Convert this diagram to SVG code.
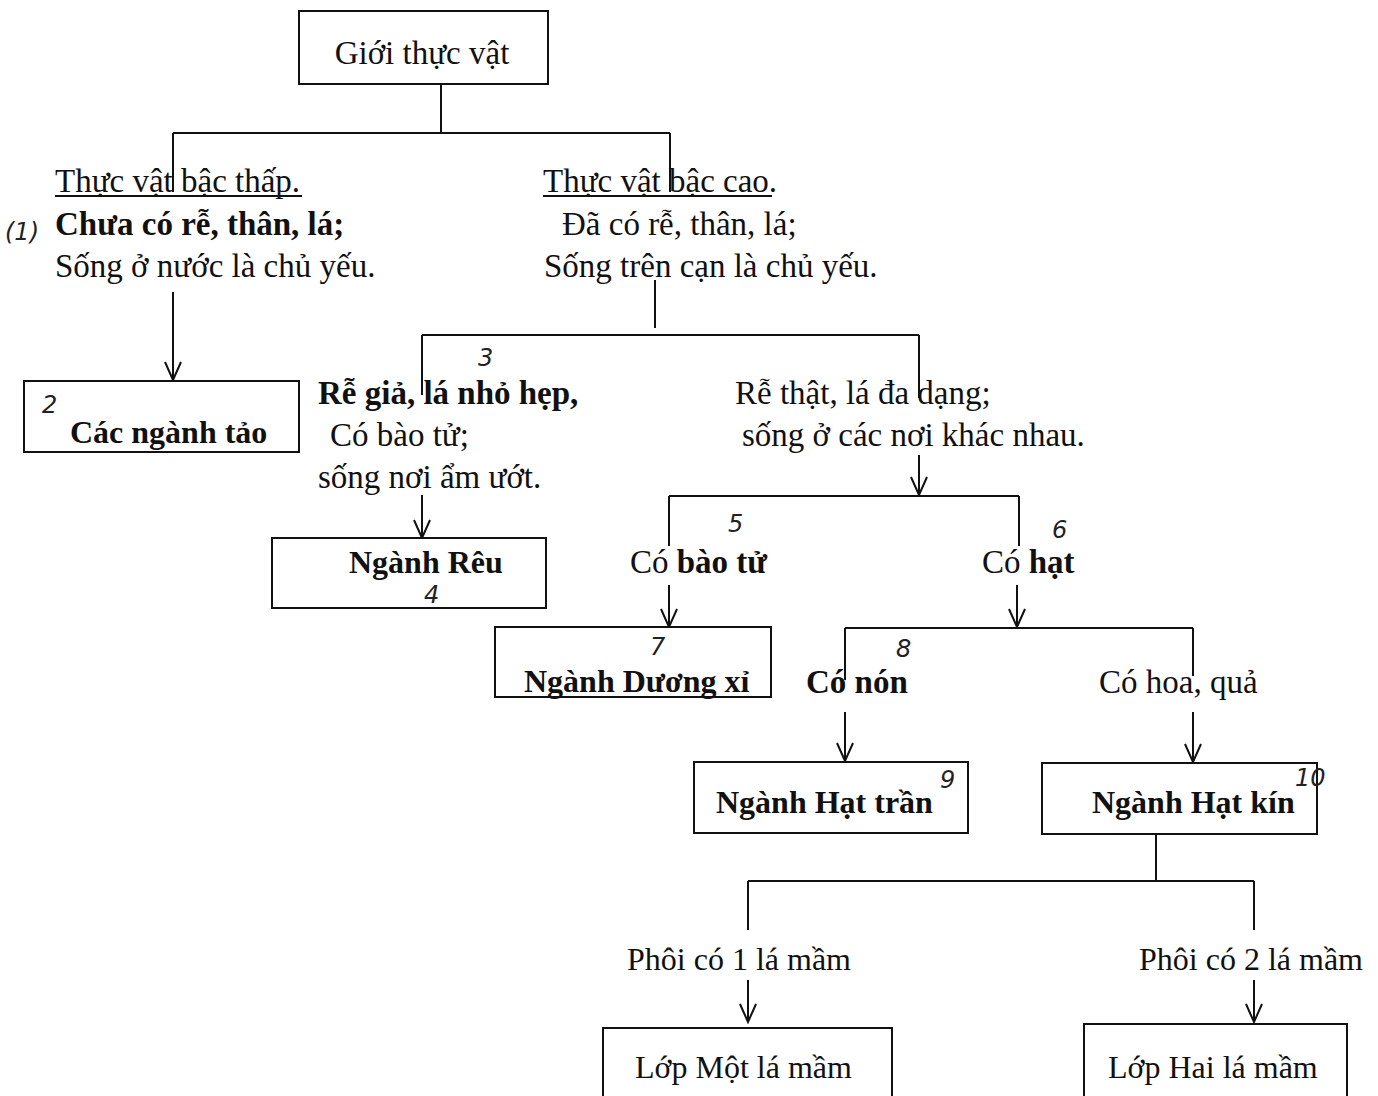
<svg xmlns="http://www.w3.org/2000/svg" width="1378" height="1096" viewBox="0 0 1378 1096">
<style>
  .box{fill:#fff;stroke:#111;stroke-width:2}
  .t{font-family:"Liberation Serif","Times New Roman",serif;font-size:33px;fill:#111}
  .b{font-weight:bold}
  .bl{font-family:"Liberation Serif","Times New Roman",serif;font-size:32px;font-weight:bold;fill:#111}
  .nl{font-family:"Liberation Serif","Times New Roman",serif;font-size:32px;fill:#111}
  .hand{font-family:"DejaVu Sans",sans-serif;font-style:italic;font-size:24px;fill:#222;font-weight:300}
  .c line,.c path{stroke:#111;stroke-width:2;fill:none}
</style>
<defs>
  <marker id="arr" viewBox="-20 -10 22 20" refX="0" refY="0" markerWidth="22" markerHeight="20" markerUnits="userSpaceOnUse" orient="auto">
    <path d="M-18,-8 L0,0 L-18,8" fill="none" stroke="#111" stroke-width="2"/>
  </marker>
</defs>
<rect width="1378" height="1096" fill="#fff"/>

<g class="c" id="connectors">
  <line x1="441" y1="84" x2="441" y2="133"/>
  <line x1="173" y1="133" x2="670" y2="133"/>
  <line x1="173" y1="133" x2="173" y2="192"/>
  <line x1="670" y1="133" x2="670" y2="192"/>
  <line x1="173" y1="292" x2="173" y2="380" marker-end="url(#arr)"/>
  <line x1="655" y1="280" x2="655" y2="328"/>
  <line x1="422" y1="335" x2="919" y2="335"/>
  <line x1="422" y1="335" x2="422" y2="395"/>
  <line x1="919" y1="335" x2="919" y2="398"/>
  <line x1="422" y1="495" x2="422" y2="538" marker-end="url(#arr)"/>
  <line x1="919" y1="455" x2="919" y2="495" marker-end="url(#arr)"/>
  <line x1="669" y1="496" x2="1019" y2="496"/>
  <line x1="669" y1="496" x2="669" y2="546"/>
  <line x1="1019" y1="496" x2="1019" y2="546"/>
  <line x1="669" y1="585" x2="669" y2="627" marker-end="url(#arr)"/>
  <line x1="1017" y1="585" x2="1017" y2="627" marker-end="url(#arr)"/>
  <line x1="845" y1="628" x2="1193" y2="628"/>
  <line x1="845" y1="628" x2="845" y2="680"/>
  <line x1="1193" y1="628" x2="1193" y2="676"/>
  <line x1="845" y1="712" x2="845" y2="761" marker-end="url(#arr)"/>
  <line x1="1193" y1="712" x2="1193" y2="762" marker-end="url(#arr)"/>
  <line x1="1156" y1="834" x2="1156" y2="881"/>
  <line x1="748" y1="881" x2="1254" y2="881"/>
  <line x1="748" y1="881" x2="748" y2="930"/>
  <line x1="1254" y1="881" x2="1254" y2="930"/>
  <line x1="748" y1="980" x2="748" y2="1022" marker-end="url(#arr)"/>
  <line x1="1254" y1="980" x2="1254" y2="1022" marker-end="url(#arr)"/>
</g>

<g id="gioi-thuc-vat">
  <rect class="box" x="299" y="11" width="249" height="73"/>
  <text class="t" x="422" y="64" text-anchor="middle">Giới thực vật</text>
</g>

<g id="thuc-vat-bac-thap">
  <text class="t" x="55" y="192">Thực vật bậc thấp.</text>
  <line x1="55" y1="196" x2="302" y2="196" stroke="#111" stroke-width="2"/>
  <text class="t b" x="55" y="235">Chưa có rễ, thân, lá;</text>
  <text class="t" x="55" y="277">Sống ở nước là chủ yếu.</text>
  <text class="hand" x="5" y="240">(1)</text>
</g>

<g id="thuc-vat-bac-cao">
  <text class="t" x="543" y="192">Thực vật bậc cao.</text>
  <line x1="543" y1="196" x2="772" y2="196" stroke="#111" stroke-width="2"/>
  <text class="t" x="562" y="235">Đã có rễ, thân, lá;</text>
  <text class="t" x="544" y="277">Sống trên cạn là chủ yếu.</text>
</g>

<g id="cac-nganh-tao">
  <rect class="box" x="24" y="381" width="275" height="71"/>
  <text class="bl" x="70" y="443">Các ngành tảo</text>
  <text class="hand" x="42" y="413">2</text>
</g>

<g id="re-gia">
  <text class="t b" x="318" y="404">Rễ giả, lá nhỏ hẹp,</text>
  <text class="t" x="330" y="446">Có bào tử;</text>
  <text class="t" x="318" y="488">sống nơi ẩm ướt.</text>
  <text class="hand" x="478" y="366">3</text>
</g>

<g id="nganh-reu">
  <rect class="box" x="272" y="538" width="274" height="70"/>
  <text class="bl" x="349" y="573">Ngành Rêu</text>
  <text class="hand" x="424" y="603">4</text>
</g>

<g id="re-that">
  <text class="t" x="735" y="404">Rễ thật, lá đa dạng;</text>
  <text class="t" x="742" y="446">sống ở các nơi khác nhau.</text>
</g>

<g id="co-bao-tu">
  <text class="t" x="630" y="573">Có <tspan class="b">bào tử</tspan></text>
  <text class="hand" x="728" y="532">5</text>
</g>

<g id="co-hat">
  <text class="t" x="982" y="573">Có <tspan class="b">hạt</tspan></text>
  <text class="hand" x="1052" y="538">6</text>
</g>

<g id="nganh-duong-xi">
  <rect class="box" x="495" y="627" width="276" height="70"/>
  <text class="bl" x="524" y="692">Ngành Dương xỉ</text>
  <text class="hand" x="650" y="655" font-size="20">7</text>
</g>

<g id="co-non">
  <text class="t b" x="806" y="693">Có nón</text>
  <text class="hand" x="896" y="657">8</text>
</g>

<g id="co-hoa-qua">
  <text class="t" x="1099" y="693">Có hoa, quả</text>
</g>

<g id="nganh-hat-tran">
  <rect class="box" x="694" y="762" width="274" height="71"/>
  <text class="bl" x="716" y="813">Ngành Hạt trần</text>
  <text class="hand" x="940" y="788" font-size="20">9</text>
</g>

<g id="nganh-hat-kin">
  <rect class="box" x="1042" y="763" width="275" height="71"/>
  <text class="bl" x="1092" y="813">Ngành Hạt kín</text>
  <text class="hand" x="1295" y="786" font-size="17">10</text>
</g>

<g id="phoi-1">
  <text class="nl" x="627" y="970">Phôi có 1 lá mầm</text>
</g>
<g id="phoi-2">
  <text class="nl" x="1139" y="970">Phôi có 2 lá mầm</text>
</g>

<g id="lop-mot-la-mam">
  <rect class="box" x="603" y="1028" width="289" height="80"/>
  <text class="nl" x="635" y="1078">Lớp Một lá mầm</text>
</g>
<g id="lop-hai-la-mam">
  <rect class="box" x="1084" y="1024" width="263" height="84"/>
  <text class="nl" x="1108" y="1078">Lớp Hai lá mầm</text>
</g>
</svg>
